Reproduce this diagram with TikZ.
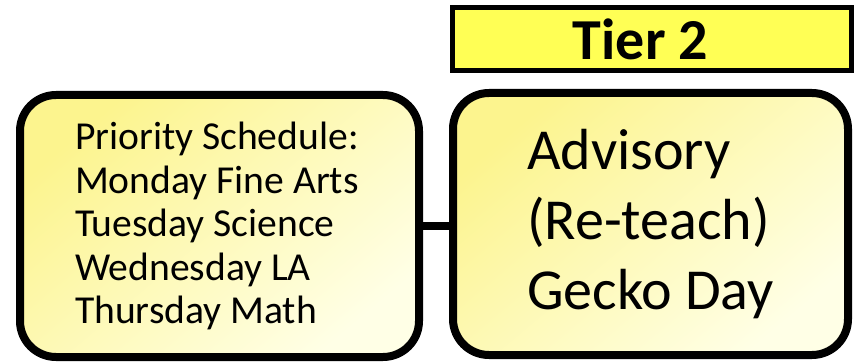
\documentclass[tikz,border=0pt]{standalone}
\usepackage{fontspec}
\setmainfont{Carlito}
\usepackage{xcolor}
\usepackage{tikz}
\definecolor{ink}{HTML}{000000}
\definecolor{tierfill}{HTML}{FFFF55}
\definecolor{boxtop}{HTML}{FCF48E}
\definecolor{boxbot}{HTML}{FFFFE6}
\tikzset{
  tierbar/.style={draw=ink, line width=5pt, fill=tierfill, minimum width=399pt, minimum height=63pt, inner sep=0pt,
    font=\fontsize{58}{70}\selectfont\bfseries},
  tierbox/.style={draw=ink, line width=8pt, rounded corners=36pt, top color=boxtop, bottom color=boxbot, shading angle=40,
    minimum height=262pt, align=flush left, inner sep=0pt},
  link/.style={draw=ink, line width=8.5pt},
}

\begin{document}
\begin{tikzpicture}[x=1pt,y=-1pt]
  \useasboundingbox (0,0) rectangle (854,363);

  \node[tierbar] (tier) at (651.5,39.5) {\hspace*{-22pt}Tier 2};

  \node[tierbox, minimum width=399pt, text width=289pt, font=\fontsize{39.6}{43.5}\selectfont] (sched) at (219.5,226)
    {Priority Schedule:\\Monday Fine Arts\\Tuesday Science\\Wednesday LA\\Thursday Math};
  \node[tierbox, minimum width=395pt, font=\fontsize{58}{70}\selectfont] (advisory) at (650.5,224)
    {Advisory\\(Re-teach)\\Gecko Day};

  \draw[link] (sched.east) -- (sched.east -| advisory.west);
\end{tikzpicture}
\end{document}
